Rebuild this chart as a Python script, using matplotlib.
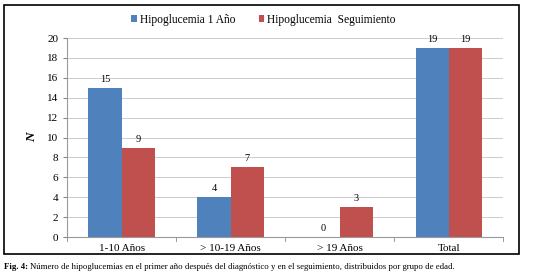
import matplotlib.pyplot as plt
import numpy as np
from matplotlib.patches import Rectangle

plt.rcParams['font.family'] = ['Liberation Serif', 'DejaVu Serif']

categories = ['1-10 Años', '> 10-19 Años', '> 19 Años', 'Total']
hipo_1_ano = [15, 4, 0, 19]
hipo_seguimiento = [9, 7, 3, 19]
series_names = ['Hipoglucemia 1 Año', 'Hipoglucemia  Seguimiento']

blue = '#4F81BD'
red = '#C0504D'

fig = plt.figure(figsize=(5.55, 2.76), dpi=100)
ax = fig.add_axes([0.121, 0.141, 0.786, 0.721])

x = np.arange(len(categories))
w = 0.305
b1 = ax.bar(x - w / 2, hipo_1_ano, w, color=blue, label=series_names[0])
b2 = ax.bar(x + w / 2, hipo_seguimiento, w, color=red, label=series_names[1])

for bars, vals in [(b1, hipo_1_ano), (b2, hipo_seguimiento)]:
    for bar, v in zip(bars, vals):
        ax.text(bar.get_x() + bar.get_width() / 2, v + 0.4, str(v),
                ha='center', va='bottom', fontsize=7.5)

ax.set_xlim(-0.5, len(categories) - 0.5)
ax.set_ylim(0, 20)
ax.set_yticks(range(0, 21, 2))
ax.set_xticks(x)
ax.set_xticklabels(categories, fontsize=8)
ax.tick_params(axis='y', labelsize=8, length=3, color='#888888')
ax.tick_params(axis='x', length=0, pad=5)
ax.yaxis.grid(True, color='#cccccc', linewidth=0.7)
ax.set_axisbelow(True)
for s in ['top', 'right']:
    ax.spines[s].set_visible(False)
ax.spines['left'].set_color('#999999')
ax.spines['bottom'].set_color('#999999')
ax.set_ylabel('N', fontsize=9.5, fontstyle='italic', fontweight='bold', labelpad=6)

# category separator ticks on x axis
for xi in np.arange(-0.5, len(categories), 1.0):
    ax.plot([xi, xi], [0, -0.35], color='#999999', lw=0.7, clip_on=False)

fig.legend(handles=[b1, b2], loc='center', bbox_to_anchor=(0.475, 0.928),
           ncol=2, frameon=False, fontsize=8.3, handlelength=0.5, handleheight=0.5,
           columnspacing=2.0, handletextpad=0.25)

# outer frame
fig.add_artist(Rectangle((0.008, 0.08), 0.928, 0.903, transform=fig.transFigure,
                         fill=False, edgecolor='black', linewidth=1.2))

fig.text(0.008, 0.032, 'Fig. 4:', fontsize=6.3, fontweight='bold', va='center')
fig.text(0.054, 0.032, 'Número de hipoglucemias en el primer año después del diagnóstico y en el seguimiento, distribuidos por grupo de edad.',
         fontsize=6.3, va='center')

plt.savefig('out.png', dpi=100)
